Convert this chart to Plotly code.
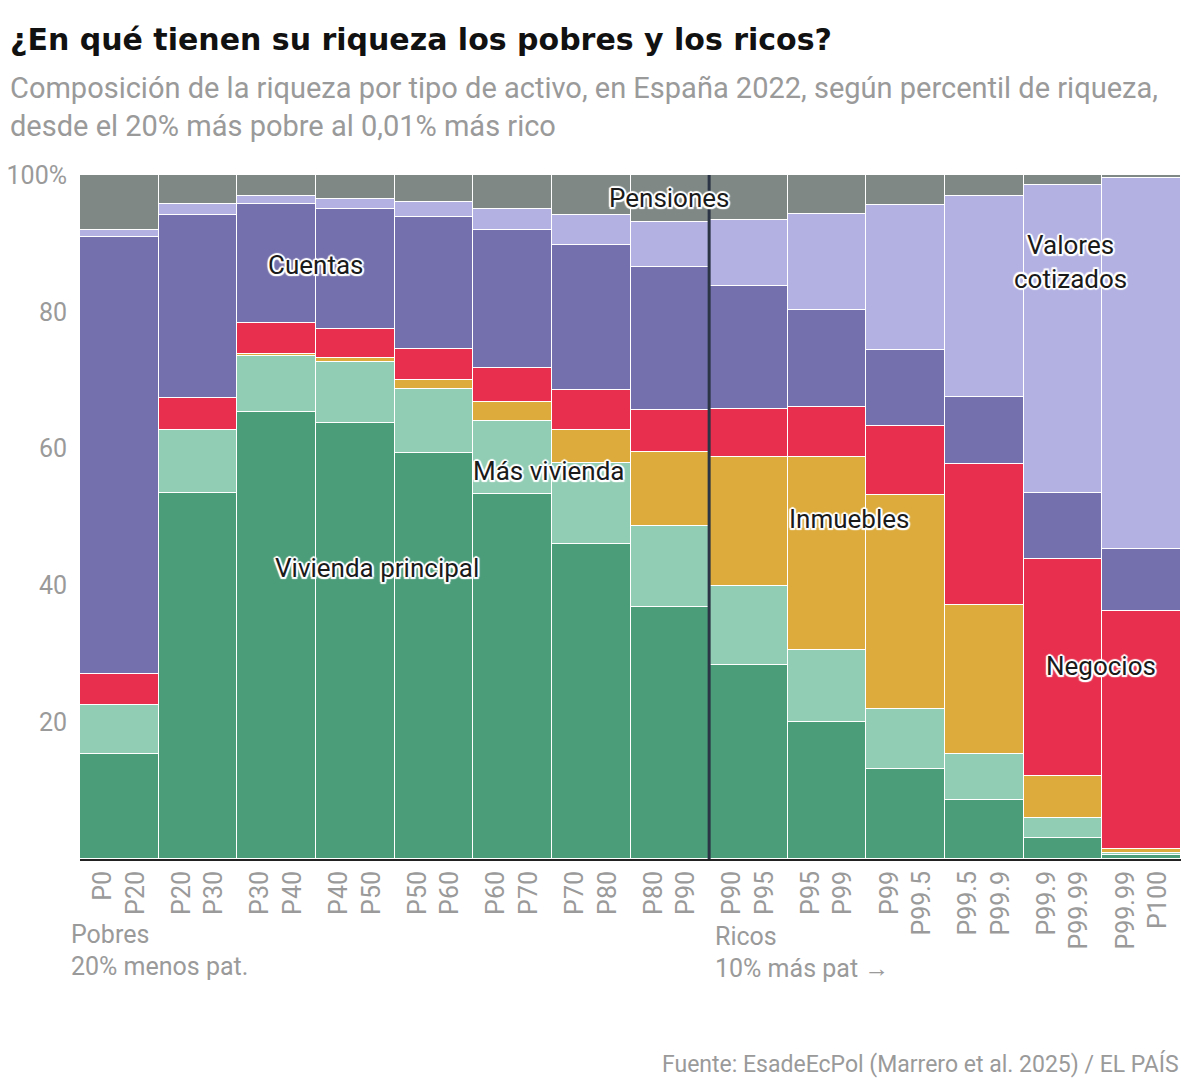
import plotly.graph_objects as go

tramos = ["P0<br>P20", "P20<br>P30", "P30<br>P40", "P40<br>P50", "P50<br>P60", "P60<br>P70",
          "P70<br>P80", "P80<br>P90", "P90<br>P95", "P95<br>P99", "P99<br>P99.5",
          "P99.5<br>P99.9", "P99.9<br>P99.99", "P99.99<br>P100"]

vivienda_principal = [15.3, 53.5, 65.3, 63.8, 59.3, 53.4, 46.1, 36.8, 28.3, 20.0, 13.1, 8.6, 3.0, 0.6]
mas_vivienda       = [7.2, 9.2, 8.3, 8.8, 9.4, 10.7, 11.8, 11.9, 11.6, 10.5, 8.9, 6.8, 3.0, 0.3]
inmuebles          = [0.0, 0.0, 0.3, 0.7, 1.4, 2.7, 4.8, 10.8, 18.8, 28.3, 31.2, 21.7, 6.1, 0.5]
negocios           = [4.5, 4.7, 4.4, 4.2, 4.5, 5.0, 5.8, 6.2, 7.1, 7.3, 10.1, 20.6, 31.7, 34.9]
cuentas            = [64.0, 26.8, 17.5, 17.6, 19.2, 20.2, 21.3, 20.8, 17.9, 14.1, 11.1, 9.8, 9.7, 9.0]
valores_cotizados  = [1.0, 1.5, 1.2, 1.4, 2.2, 3.1, 4.4, 6.7, 9.7, 14.1, 21.2, 29.4, 45.0, 54.3]
pensiones          = [8.0, 4.3, 3.0, 3.5, 4.0, 4.9, 5.8, 6.8, 6.6, 5.7, 4.4, 3.1, 1.5, 0.4]

series = [
    ("Vivienda principal", vivienda_principal, "#4b9d7a"),
    ("Más vivienda", mas_vivienda, "#91cdb4"),
    ("Inmuebles", inmuebles, "#dcab3b"),
    ("Negocios", negocios, "#e8304e"),
    ("Cuentas", cuentas, "#7470ad"),
    ("Valores cotizados", valores_cotizados, "#b3b1e2"),
    ("Pensiones", pensiones, "#7f8884"),
]

FONT = "Roboto, 'Noto Sans', sans-serif"
TITLE_FONT = "'DejaVu Sans', Roboto, sans-serif"
GRAY = "#9a9a9a"
xs = list(range(len(tramos)))

fig = go.Figure()
for name, vals, color in series:
    fig.add_trace(go.Bar(
        x=xs, y=vals, name=name, width=1,
        marker=dict(color=color, line=dict(color="white", width=1.5)),
        hoverinfo="name+y",
    ))

halo = ("white 2px 0px 1px, white -2px 0px 1px, white 0px 2px 1px, white 0px -2px 1px, "
        "white 1.5px 1.5px 1px, white -1.5px -1.5px 1px, white 1.5px -1.5px 1px, white -1.5px 1.5px 1px")

labels = [
    ("Cuentas", 2.5, 86.9),
    ("Pensiones", 7.0, 96.7),
    ("Más vivienda", 5.46, 56.7),
    ("Vivienda principal", 3.28, 42.5),
    ("Inmuebles", 9.28, 49.7),
    ("Valores<br>cotizados", 12.09, 87.3),
    ("Negocios", 12.48, 28.2),
]
annotations = []
for txt, x, y in labels:
    annotations.append(dict(
        text=txt, x=x, y=y, xref="x", yref="y", showarrow=False,
        font=dict(family=FONT, size=26, color="#1a1a1a", shadow=halo),
        xanchor="center", yanchor="middle", align="center",
    ))

# page coordinates of the plot area (reference picture)
PLOT_L, PLOT_R, PLOT_T, PLOT_B = 80, 1181, 175, 858.6
OFF = 8  # default body margin of the html page

def py(p):
    return (PLOT_B - p) / (PLOT_B - PLOT_T)

def px(p):
    return (p - PLOT_L) / (PLOT_R - PLOT_L)

annotations += [
    dict(text="<b>¿En qué tienen su riqueza los pobres y los ricos?</b>", x=px(8), y=py(40),
         xref="paper", yref="paper", showarrow=False, xanchor="left", yanchor="middle",
         font=dict(family=TITLE_FONT, size=30, color="#111111")),
    dict(text="Composición de la riqueza por tipo de activo, en España 2022, según percentil de riqueza,",
         x=px(8), y=py(88), xref="paper", yref="paper", showarrow=False,
         xanchor="left", yanchor="middle", font=dict(family=FONT, size=29, color=GRAY)),
    dict(text="desde el 20% más pobre al 0,01% más rico",
         x=px(8), y=py(126), xref="paper", yref="paper", showarrow=False,
         xanchor="left", yanchor="middle", font=dict(family=FONT, size=29, color=GRAY)),
    dict(text="Pobres", x=px(69), y=py(934), xref="paper", yref="paper",
         showarrow=False, xanchor="left", yanchor="middle", font=dict(family=FONT, size=25, color=GRAY)),
    dict(text="20% menos pat.", x=px(69), y=py(966), xref="paper", yref="paper",
         showarrow=False, xanchor="left", yanchor="middle", font=dict(family=FONT, size=25, color=GRAY)),
    dict(text="Ricos", x=px(713), y=py(936), xref="paper", yref="paper",
         showarrow=False, xanchor="left", yanchor="middle", font=dict(family=FONT, size=25, color=GRAY)),
    dict(text="10% más pat →", x=px(713), y=py(968), xref="paper", yref="paper",
         showarrow=False, xanchor="left", yanchor="middle", font=dict(family=FONT, size=25, color=GRAY)),
    dict(text="Fuente: EsadeEcPol (Marrero et al. 2025) / EL PAÍS", x=1.0, y=py(1063),
         xref="paper", yref="paper", showarrow=False, xanchor="right", yanchor="middle",
         font=dict(family=FONT, size=23, color=GRAY)),
]

W, H = 1184, 1071
fig.update_layout(
    width=W, height=H,
    margin=dict(l=PLOT_L - OFF, r=W + OFF - PLOT_R, t=PLOT_T - OFF, b=H + OFF - PLOT_B,
                autoexpand=False),
    paper_bgcolor="white", plot_bgcolor="white",
    barmode="stack", bargap=0, showlegend=False,
    annotations=annotations,
    shapes=[dict(type="line", xref="x", yref="y", x0=7.5, x1=7.5, y0=0, y1=100,
                 line=dict(color="#2b3445", width=3), layer="above")],
    xaxis=dict(
        range=[-0.5, 13.5], tickmode="array", tickvals=xs, ticktext=tramos,
        tickangle=-90, tickfont=dict(family=FONT, size=25, color=GRAY),
        showgrid=False, zeroline=False, showline=True, linecolor="#222222", linewidth=2,
        ticks="", ticklabelstandoff=0, automargin=False,
    ),
    yaxis=dict(
        range=[0, 100], tickmode="array", tickvals=[20, 40, 60, 80, 100],
        ticktext=["20", "40", "60", "80", "100%"],
        tickfont=dict(family=FONT, size=25, color=GRAY),
        showgrid=False, zeroline=False, showline=False, ticks="", ticklabelstandoff=12,
        automargin=False,
    ),
)

fig.write_html("out.html")
